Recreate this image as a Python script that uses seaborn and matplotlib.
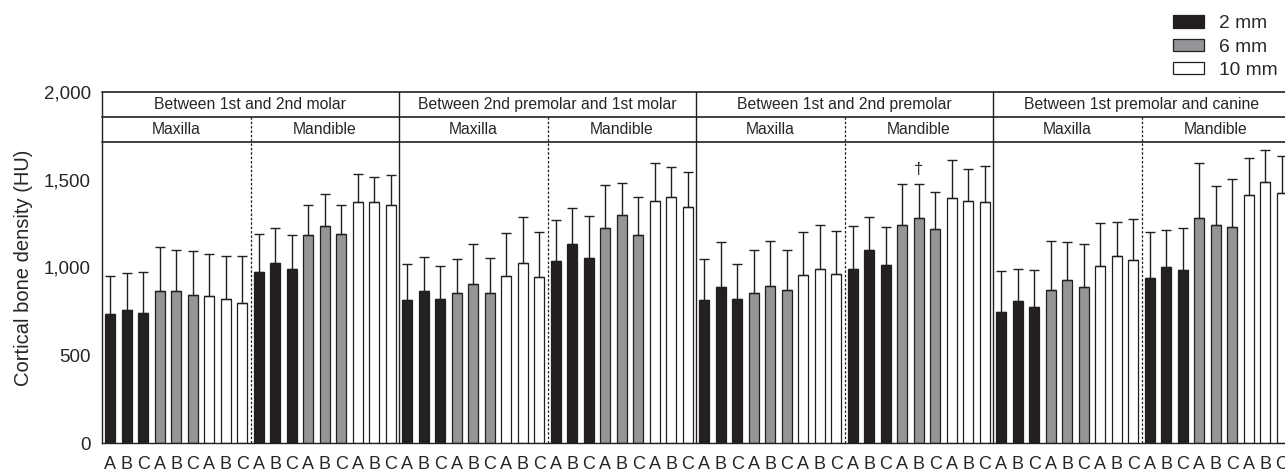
import numpy as np
import pandas as pd
import seaborn as sns
import matplotlib.pyplot as plt
from matplotlib.patches import Patch

sns.set_style("white")
plt.rcParams['font.family'] = ['Liberation Sans', 'DejaVu Sans']

regions = ["Between 1st and 2nd molar", "Between 2nd premolar and 1st molar",
           "Between 1st and 2nd premolar", "Between 1st premolar and canine"]
jaws = ["Maxilla", "Mandible"]
depths = ["2 mm", "6 mm", "10 mm"]
sites = ["A", "B", "C"]

# mean values, order: region -> jaw -> depth -> site
mean_molar12 = [735, 756, 741, 864, 868, 843, 838, 820, 796,
                974, 1024, 991, 1185, 1236, 1193, 1375, 1371, 1358]
mean_pm2_m1 = [815, 864, 820, 855, 908, 853, 950, 1024, 946,
               1037, 1134, 1052, 1223, 1301, 1187, 1377, 1400, 1343]
mean_pm12 = [813, 891, 820, 855, 893, 872, 957, 991, 961,
             991, 1100, 1014, 1240, 1282, 1217, 1394, 1379, 1373]
mean_pm1_can = [745, 809, 775, 874, 927, 889, 1010, 1066, 1045,
                942, 1003, 986, 1284, 1240, 1231, 1413, 1485, 1424]

# upper end of the error bar (mean + SD)
top_molar12 = [954, 967, 976, 1115, 1102, 1096, 1075, 1067, 1067,
               1193, 1227, 1187, 1358, 1421, 1358, 1533, 1514, 1527]
top_pm2_m1 = [1018, 1058, 1010, 1048, 1136, 1056, 1198, 1290, 1204,
              1273, 1341, 1292, 1472, 1481, 1402, 1594, 1575, 1546]
top_pm12 = [1048, 1147, 1020, 1098, 1151, 1102, 1202, 1244, 1210,
            1238, 1290, 1233, 1476, 1478, 1432, 1614, 1559, 1576]
top_pm1_can = [982, 990, 984, 1149, 1147, 1136, 1254, 1261, 1274,
               1204, 1214, 1223, 1594, 1462, 1504, 1624, 1671, 1633]

means = mean_molar12 + mean_pm2_m1 + mean_pm12 + mean_pm1_can
tops = top_molar12 + top_pm2_m1 + top_pm12 + top_pm1_can

rows = []
i = 0
for r in regions:
    for j in jaws:
        for d in depths:
            for s in sites:
                rows.append({"key": f"{i:02d}", "region": r, "jaw": j,
                             "depth": d, "site": s, "value": means[i], "top": tops[i]})
                i += 1
df = pd.DataFrame(rows)
df["sd"] = df["top"] - df["value"]

colors = {"2 mm": "#231f20", "6 mm": "#939598", "10 mm": "#ffffff"}

fig = plt.figure(figsize=(12.85, 4.73), dpi=100)
ax = fig.add_axes([102 / 1285, 30 / 473, 1188 / 1285, 351 / 473])

sns.barplot(data=df, x="key", y="value", hue="depth", palette=colors,
            hue_order=depths, dodge=False, width=0.58, errorbar=None,
            edgecolor="#231f20", linewidth=0.9, legend=False, ax=ax)

x = np.arange(len(df))
ax.errorbar(x, df["value"], yerr=[np.zeros(len(df)), df["sd"]], fmt="none",
            ecolor="#231f20", elinewidth=1.0, capsize=3.5, capthick=1.0)

ax.set_xlim(-0.5, len(df) - 0.5)
ax.set_ylim(0, 2000)
ax.set_yticks([0, 500, 1000, 1500, 2000])
ax.set_yticklabels(["0", "500", "1,000", "1,500", "2,000"], fontsize=13.5)
ax.set_ylabel("Cortical bone density (HU)", fontsize=14.5, labelpad=8)
ax.set_xlabel("")

ax.set_xticks(np.arange(-0.5, len(df), 1.0))
ax.set_xticklabels([])
ax.set_xticks(x, minor=True)
ax.set_xticklabels(df["site"], minor=True, fontsize=13)
ax.tick_params(axis="x", which="major", direction="out", length=6, width=1, color="#231f20")
ax.tick_params(axis="x", which="minor", length=0, pad=9)
ax.tick_params(axis="y", direction="out", length=5, width=1, color="#231f20", pad=3)

for side in ["top", "right"]:
    ax.spines[side].set_visible(False)
for side in ["left", "bottom"]:
    ax.spines[side].set_color("#231f20")
    ax.spines[side].set_linewidth(1.0)

# header boxes
h1, h2 = 1860, 1717
for yv in [2000, h1, h2]:
    ax.axhline(yv, color="#231f20", lw=1.2, clip_on=False)
for k in range(1, 5):
    ax.plot([18 * k - 0.5] * 2, [0, 2000], color="#231f20", lw=1.0, clip_on=False)
for k in range(4):
    ax.plot([18 * k + 8.5] * 2, [0, h1], color="#231f20", lw=0.9, ls=(0, (2, 1.5)))
    ax.text(18 * k + 8.5, (2000 + h1) / 2, regions[k], ha="center", va="center", fontsize=11.3)
    ax.text(18 * k + 4, (h1 + h2) / 2, "Maxilla", ha="center", va="center", fontsize=11.3)
    ax.text(18 * k + 13, (h1 + h2) / 2, "Mandible", ha="center", va="center", fontsize=11.3)

# significance mark
ax.text(49, tops[49] + 40, "\u2020", ha="center", va="bottom", fontsize=12)

handles = [Patch(facecolor=colors[d], edgecolor="#231f20", linewidth=0.9) for d in depths]
fig.legend(handles, depths, loc="upper right", bbox_to_anchor=(1.004, 0.994),
           frameon=False, fontsize=13.8, handlelength=1.6, handleheight=0.62,
           labelspacing=0.33, handletextpad=0.8, borderaxespad=0.25)

fig.savefig("out.png", dpi=100)
